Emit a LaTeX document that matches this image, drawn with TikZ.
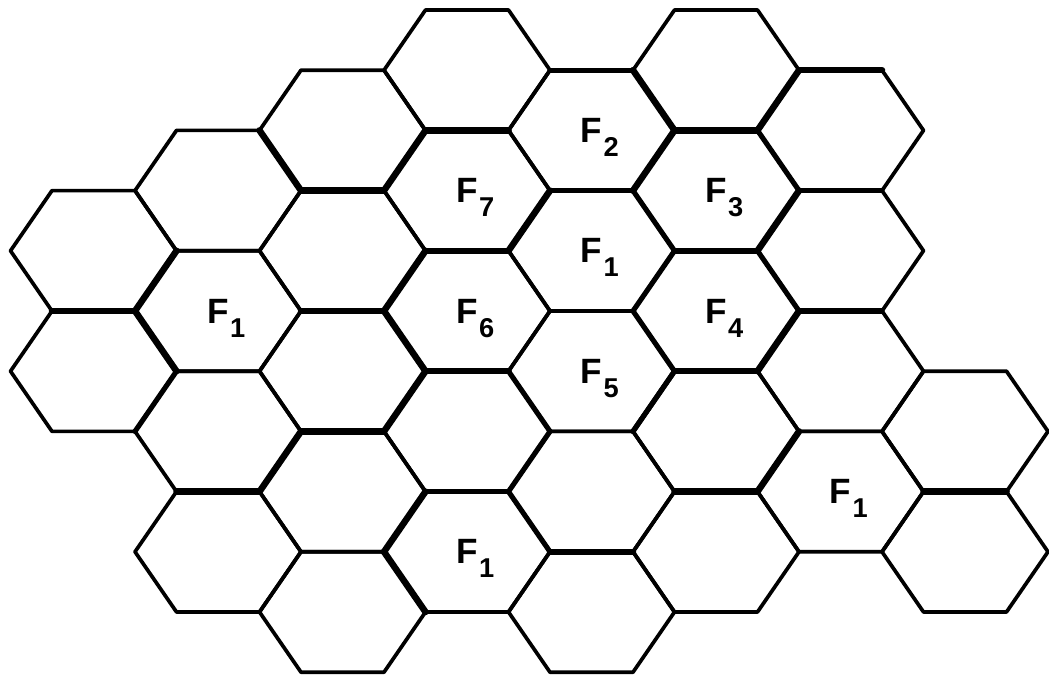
\documentclass[tikz,border=0pt]{standalone}
\usepackage{fontspec}
\setmainfont{Liberation Sans}
\tikzset{
  hexline/.style={line width=2.1pt, line join=round},
  medline/.style={line width=2.9pt, line cap=round},
  thickline/.style={line width=3.7pt, line cap=round},
  lab/.style={inner sep=0pt, font=\bfseries\fontsize{20}{20}\selectfont},
}
\newcommand{\flab}[1]{F\rlap{\smash{\raisebox{-0.28cm}{\kern0.03cm\fontsize{15.5}{15.5}\selectfont #1}}}}
\begin{document}
\begin{tikzpicture}[x=0.02cm, y=-0.02cm]
\useasboundingbox (0,0) rectangle (1049,675);
% grid of hexagon vertices
\foreach \j in {0,...,25}{
  \foreach \m in {0,...,11}{
    \coordinate (v\j-\m) at ({10.5+41.5*\j},{10+60.2*\m});
  }
}
% hexagons (column index j = 3c+2, row k)
\foreach \j/\k in {2/4,2/6,
                   5/3,5/5,5/7,5/9,
                   8/2,8/4,8/6,8/8,8/10,
                   11/1,11/3,11/5,11/7,11/9,
                   14/2,14/4,14/6,14/8,14/10,
                   17/1,17/3,17/5,17/7,17/9,
                   20/2,20/4,20/6,20/8,
                   23/7,23/9}{
  \pgfmathtruncatemacro{\ja}{\j-2}
  \pgfmathtruncatemacro{\jb}{\j-1}
  \pgfmathtruncatemacro{\jc}{\j+1}
  \pgfmathtruncatemacro{\jd}{\j+2}
  \pgfmathtruncatemacro{\ku}{\k-1}
  \pgfmathtruncatemacro{\kd}{\k+1}
  \draw[hexline] (v\ja-\k) -- (v\jb-\ku) -- (v\jc-\ku) -- (v\jd-\k)
                 -- (v\jc-\kd) -- (v\jb-\kd) -- cycle;
}
% heavier edges
\foreach \a/\b/\c/\d in {3/7/4/6, 18/2/19/3, 19/3/21/3, 18/4/19/5, 19/5/21/5,
                         12/6/13/7, 10/8/12/8, 15/7/16/6, 15/3/16/4, 16/4/15/5,
                         15/5/16/6, 16/6/15/7, 18/8/19/7, 12/8/13/7, 12/8/13/9,
                         13/3/15/3, 13/1/15/1}{
  \draw[medline] (v\a-\b) -- (v\c-\d);
}
\foreach \a/\b/\c/\d in {6/2/7/3, 7/3/9/3, 1/5/3/5, 3/5/4/4, 7/5/9/5, 3/5/4/6,
                         7/7/9/7, 7/7/6/8, 4/8/6/8, 10/2/12/2, 15/1/16/2,
                         16/2/18/2, 10/2/9/3, 10/4/12/4, 12/4/13/3, 15/3/16/2,
                         16/4/18/4, 10/4/9/5, 19/1/21/1, 19/1/18/2,
                         19/3/18/4, 19/5/18/6, 9/5/10/6, 10/6/12/6, 10/6/9/7,
                         16/6/18/6, 16/8/18/8, 10/8/9/9, 9/9/10/10, 13/9/15/9,
                         19/7/18/8, 22/8/24/8}{
  \draw[thickline] (v\a-\b) -- (v\c-\d);
}
% labels
\node[lab] (f1a) at (v5-5)  {\flab{1}};
\node[lab] (f7)  at (v11-3) {\flab{7}};
\node[lab] (f6)  at (v11-5) {\flab{6}};
\node[lab] (f1b) at (v11-9) {\flab{1}};
\node[lab] (f2)  at (v14-2) {\flab{2}};
\node[lab] (f1c) at (v14-4) {\flab{1}};
\node[lab] (f5)  at (v14-6) {\flab{5}};
\node[lab] (f3)  at (v17-3) {\flab{3}};
\node[lab] (f4)  at (v17-5) {\flab{4}};
\node[lab] (f1d) at (v20-8) {\flab{1}};
\end{tikzpicture}
\end{document}
